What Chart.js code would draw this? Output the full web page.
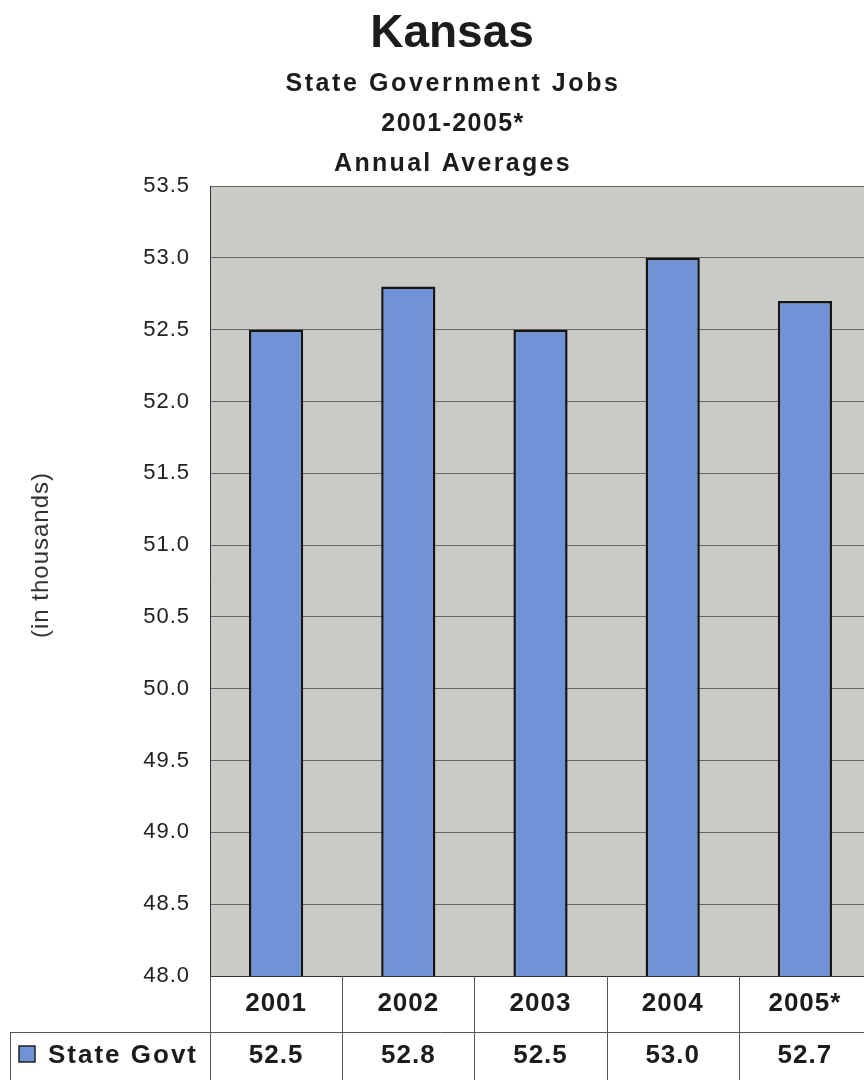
<!DOCTYPE html>
<html><head><meta charset="utf-8">
<script src="https://cdn.jsdelivr.net/npm/chart.js@4/dist/chart.umd.min.js"></script>
<style>html,body{margin:0;padding:0;background:#fff;overflow:hidden;width:864px;height:1080px}canvas{display:block}</style>
</head><body><canvas id="c" width="871" height="1080"></canvas>
<script>
const chartTitle = 'Kansas';
const subtitles = ['State Government Jobs', '2001-2005*', 'Annual Averages'];
const categories = ['2001', '2002', '2003', '2004', '2005*'];
const seriesName = 'State Govt';
const stateGovt = [52.5, 52.8, 52.5, 53.0, 52.7];
const yMin = 48.0, yMax = 53.5, yStep = 0.5;
const yAxisTitle = '(in thousands)';

const FONT = '"Liberation Sans", Arial, Helvetica, sans-serif';
const BAR = '#6f93d4';
const INK = '#1c1c1c';

const decor = {
  id: 'decor',
  beforeDraw(chart) {
    const { ctx, chartArea: a } = chart;
    ctx.save();
    ctx.fillStyle = '#c9cbc6';
    ctx.fillRect(a.left, a.top, a.right - a.left, a.bottom - a.top);
    ctx.restore();
    ctx.letterSpacing = '1px';
  },
  afterDraw(chart) {
    const { ctx, chartArea: a, scales: { x } } = chart;
    ctx.save();
    ctx.fillStyle = INK;
    ctx.textAlign = 'center';
    ctx.textBaseline = 'middle';
    // titles
    ctx.letterSpacing = '0px';
    ctx.font = 'bold 46px ' + FONT;
    ctx.fillText(chartTitle, 452, 34);
    ctx.font = 'bold 25px ' + FONT;
    const spacing = ['2.6px', '1.4px', '2.3px'];
    subtitles.forEach((s, i) => { ctx.letterSpacing = spacing[i]; ctx.fillText(s, 453, 84 + 40 * i); });
    // y axis title
    ctx.save();
    ctx.letterSpacing = '1px';
    ctx.translate(41, 555);
    ctx.rotate(-Math.PI / 2);
    ctx.font = '24px ' + FONT;
    ctx.fillStyle = '#333';
    ctx.fillText(yAxisTitle, 0, 0);
    ctx.restore();
    // data table
    const n = categories.length;
    const w = x.getPixelForValue(1) - x.getPixelForValue(0);
    const rowY = 1032;
    ctx.strokeStyle = '#555';
    ctx.lineWidth = 1;
    ctx.beginPath();
    for (let i = 0; i <= n; i++) {
      const bx = Math.round(x.getPixelForValue(0) - w / 2 + i * w) + 0.5;
      ctx.moveTo(bx, a.bottom);
      ctx.lineTo(bx, chart.height);
    }
    ctx.moveTo(10, rowY + 0.5);
    ctx.lineTo(a.right, rowY + 0.5);
    ctx.moveTo(10.5, rowY);
    ctx.lineTo(10.5, chart.height);
    ctx.stroke();
    ctx.letterSpacing = '1px';
    ctx.font = 'bold 26px ' + FONT;
    stateGovt.forEach((v, i) => ctx.fillText(v.toFixed(1), x.getPixelForValue(i), 1056));
    // legend key
    ctx.fillStyle = BAR;
    ctx.fillRect(19, 1046, 16, 16);
    ctx.strokeStyle = '#222';
    ctx.lineWidth = 1.5;
    ctx.strokeRect(19, 1046, 16, 16);
    ctx.fillStyle = INK;
    ctx.textAlign = 'left';
    ctx.letterSpacing = '2px';
    ctx.fillText(seriesName, 48, 1056);
    ctx.restore();
  }
};

new Chart(document.getElementById('c'), {
  type: 'bar',
  data: {
    labels: categories,
    datasets: [{
      label: seriesName,
      data: stateGovt,
      backgroundColor: BAR,
      borderColor: '#151515',
      borderWidth: 2.5,
      borderSkipped: false,
      barPercentage: 0.41,
      categoryPercentage: 1
    }]
  },
  options: {
    responsive: false,
    animation: false,
    devicePixelRatio: 1,
    layout: { padding: { top: 186, left: 0, right: 0, bottom: 0 } },
    plugins: { legend: { display: false }, tooltip: { enabled: false }, title: { display: false } },
    scales: {
      x: {
        grid: { display: false, drawTicks: false },
        border: { display: true, color: '#333', width: 1 },
        ticks: { font: { family: FONT, size: 26, weight: 'bold' }, color: INK, padding: 12, maxRotation: 0 },
        afterFit(s) { s.height = 104; }
      },
      y: {
        min: yMin, max: yMax,
        grid: { color: '#666', lineWidth: 1, drawTicks: false },
        border: { display: true, color: '#333', width: 1 },
        ticks: { stepSize: yStep, callback: v => Number(v).toFixed(1), font: { family: FONT, size: 22 }, color: '#222', padding: 20 },
        afterFit(s) { s.width = 210; }
      }
    }
  },
  plugins: [decor]
});
</script>
</body></html>
